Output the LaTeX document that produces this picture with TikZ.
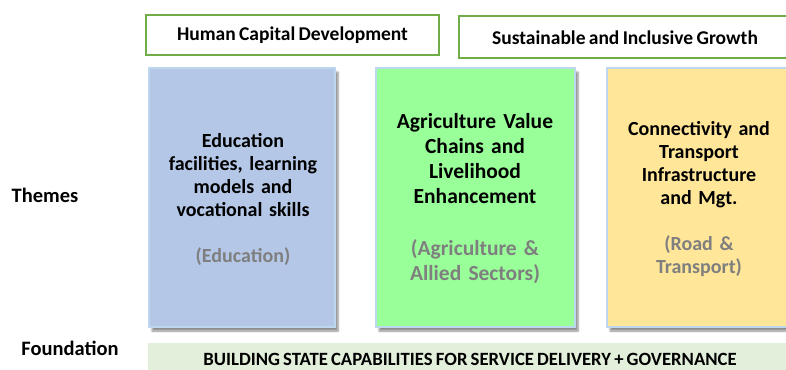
\documentclass[tikz,border=0pt]{standalone}
\usepackage{fontspec}
\setmainfont{Carlito}[WordSpace=0.75]
\usetikzlibrary{shadows.blur}
\definecolor{hdrgreen}{HTML}{70AD47}
\definecolor{edublue}{HTML}{B4C7E7}
\definecolor{agrigreen}{HTML}{99FF99}
\definecolor{roadyellow}{HTML}{FFE699}
\definecolor{themeedge}{HTML}{BDD7EE}
\definecolor{subgray}{HTML}{7F7F7F}
\definecolor{foundfill}{HTML}{E2EFDA}
\tikzset{
  header/.style={draw=hdrgreen, line width=2pt, fill=white, inner sep=0pt},
  hdrtext/.style={font=\bfseries\fontsize{19.5}{22}\selectfont, inner sep=0pt},
  theme/.style={draw=themeedge, line width=1.5pt, inner sep=0pt,
    blur shadow={shadow xshift=3pt, shadow yshift=-4pt, shadow blur steps=6, shadow opacity=45}},
  themetext/.style={font=\bfseries\fontsize{20}{23}\selectfont, align=center, inner sep=0pt},
  sidelabel/.style={font=\bfseries\fontsize{20.5}{24}\selectfont, inner sep=0pt},
  sub/.style={text=subgray}
}
\begin{document}
\begin{tikzpicture}[x=1pt,y=-1pt]
\useasboundingbox (0,0) rectangle (786,369);
\clip (0,0) rectangle (786,369);
% header boxes
\node[header, minimum width=293pt, minimum height=40pt] (hcbox) at (292.5,35) {};
\node[hdrtext] (hc) at (hcbox.center) {Human Capital Development};
\node[header, minimum width=334pt, minimum height=42pt] (sgbox) at (626,37) {};
\node[hdrtext] (sg) at (625,38) {Sustainable and Inclusive Growth};
% theme boxes
\node[theme, fill=edublue, minimum width=186pt, minimum height=259pt] (edu) at (242,197.5) {};
\node[themetext, text width=180pt] (edut) at (243,199) {Education\\facilities, learning\\models and\\vocational skills\\[23pt]{\color{subgray}(Education)}};
\node[theme, fill=agrigreen, minimum width=199pt, minimum height=259pt] (agri) at (475.5,197.5) {};
\node[themetext, text width=195pt, font=\bfseries\fontsize{21.5}{25}\selectfont] (agrit) at (475,199) {Agriculture Value\\Chains and\\Livelihood\\Enhancement\\[27pt]{\color{subgray}(Agriculture \&\\Allied Sectors)}};
\node[theme, fill=roadyellow, minimum width=190pt, minimum height=259pt] (road) at (702,197.5) {};
\node[themetext, text width=180pt] (roadt) at (699,199) {Connectivity and\\Transport\\Infrastructure\\and Mgt.\\[23pt]{\color{subgray}(Road \&\\Transport)}};
% side labels
\node[sidelabel] (themes) at (45,195) {Themes};
\node[sidelabel] (foundlbl) at (70,348) {Foundation};
% foundation bar
\node[fill=foundfill, minimum width=650pt, minimum height=30pt, inner sep=0pt] (found) at (473,358) {};
\node[font=\bfseries\fontsize{18.7}{20}\selectfont, inner sep=0pt] (foundt) at (470,359.5) {BUILDING STATE CAPABILITIES FOR SERVICE DELIVERY + GOVERNANCE};
\end{tikzpicture}
\end{document}
